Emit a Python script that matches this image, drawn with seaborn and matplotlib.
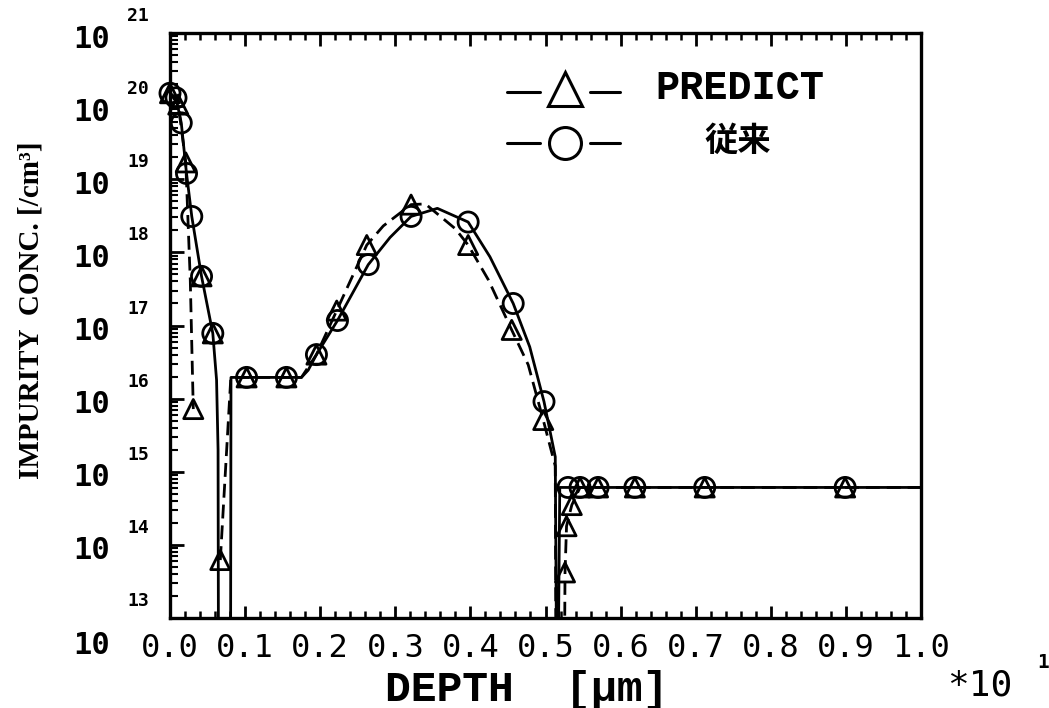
import pandas as pd
import matplotlib
matplotlib.use("Agg")
import matplotlib.pyplot as plt
import matplotlib.ticker as mticker
from matplotlib.transforms import offset_copy
import seaborn as sns

# depth is in units of 10 um (axis reads 0.0 .. 1.0, *10^1), concentration in /cm3
# 1e12 marks points where the profile drops below the bottom of the axis (junctions)

# conventional (従来) profile, solid line
conv_depth = [0.000, 0.008, 0.015, 0.022, 0.029, 0.042, 0.057, 0.062, 0.064, 0.0646,
              0.0806, 0.0812, 0.102, 0.155, 0.175, 0.184, 0.195, 0.223, 0.264, 0.293,
              0.321, 0.356, 0.397, 0.426, 0.457, 0.479, 0.498, 0.513, 0.515, 0.5166,
              0.519, 1.000]
conv_conc = [1.5e20, 1.3e20, 5.9e19, 1.2e19, 3.1e18, 4.7e17, 7.8e16, 1.8e16, 2.0e15, 1e12,
             1e12, 1.95e16, 1.95e16, 1.95e16, 1.95e16, 2.45e16, 4.0e16, 1.17e17, 6.8e17, 1.6e18,
             3.1e18, 4.0e18, 2.6e18, 8.7e17, 2.0e17, 5.1e16, 9.1e15, 1.6e15, 1e12, 1e12,
             6.1e14, 6.1e14]
conv_mark_depth = [0.000, 0.008, 0.015, 0.022, 0.029, 0.042, 0.057, 0.102, 0.155, 0.195,
                   0.223, 0.264, 0.321, 0.397, 0.457, 0.498, 0.530, 0.546, 0.570, 0.619,
                   0.712, 0.899]
conv_mark_conc = [1.5e20, 1.3e20, 5.9e19, 1.2e19, 3.1e18, 4.7e17, 7.8e16, 1.95e16, 1.95e16, 4.0e16,
                  1.17e17, 6.8e17, 3.1e18, 2.6e18, 2.0e17, 9.1e15, 6.1e14, 6.1e14, 6.1e14, 6.1e14,
                  6.1e14, 6.1e14]

# PREDICT profile, dashed line (two pieces)
predict_seg = [1, 1, 1, 1, 1,
               2, 2, 2, 2, 2, 2, 2, 2, 2, 2, 2, 2, 2, 2, 2, 2, 2, 2, 2, 2, 2, 2, 2, 2, 2]
predict_depth = [0.000, 0.011, 0.021, 0.027, 0.031,
                 0.067, 0.081, 0.102, 0.155, 0.175, 0.195, 0.222, 0.262, 0.284, 0.321,
                 0.340, 0.380, 0.397, 0.424, 0.455, 0.477, 0.497, 0.513, 0.514, 0.525,
                 0.526, 0.528, 0.535, 0.546, 1.000]
predict_conc = [1.5e20, 1.05e20, 1.7e19, 4.2e17, 7.2e15,
                6.2e13, 1.95e16, 1.95e16, 1.95e16, 1.95e16, 4.0e16, 1.6e17, 1.26e18, 2.3e18, 4.5e18,
                4.6e18, 2.1e18, 1.26e18, 4.2e17, 8.7e16, 2.9e16, 5.1e15, 1.2e15, 1e12, 1e12,
                4.2e13, 1.8e14, 3.5e14, 6.1e14, 6.1e14]
predict_mark_depth = [0.000, 0.011, 0.021, 0.031, 0.042, 0.057, 0.067, 0.102, 0.155, 0.195,
                      0.222, 0.262, 0.321, 0.397, 0.455, 0.497, 0.526, 0.528, 0.535, 0.546,
                      0.570, 0.619, 0.712, 0.899]
predict_mark_conc = [1.5e20, 1.05e20, 1.7e19, 7.2e15, 4.7e17, 7.8e16, 6.2e13, 1.95e16, 1.95e16, 4.0e16,
                     1.6e17, 1.26e18, 4.5e18, 1.26e18, 8.7e16, 5.1e15, 4.2e13, 1.8e14, 3.5e14, 6.1e14,
                     6.1e14, 6.1e14, 6.1e14, 6.1e14]

x_ticks = [0.0, 0.1, 0.2, 0.3, 0.4, 0.5, 0.6, 0.7, 0.8, 0.9, 1.0]
x_ticklabels = ["0.0", "0.1", "0.2", "0.3", "0.4", "0.5", "0.6", "0.7", "0.8", "0.9", "1.0"]
y_exponents = [13, 14, 15, 16, 17, 18, 19, 20, 21]

sns.set_theme(style="ticks")
plt.rcParams['font.family'] = ['DejaVu Sans Mono', 'Noto Sans CJK JP']
plt.rcParams.update({"text.color": "black", "axes.labelcolor": "black",
                     "xtick.color": "black", "ytick.color": "black",
                     "axes.edgecolor": "black"})

W, H = 1049, 708
fig = plt.figure(figsize=(W / 100, H / 100), dpi=100)
ax = fig.add_axes([170 / W, 1 - 618 / H, 751 / W, 585 / H])
ax.set_yscale("log")

conv_df = pd.DataFrame({"depth": conv_depth, "conc": conv_conc})
pred_df = pd.DataFrame({"depth": predict_depth, "conc": predict_conc, "seg": predict_seg})

sns.lineplot(data=conv_df, x="depth", y="conc", sort=False, estimator=None,
             color="black", lw=2.0, ax=ax)
sns.lineplot(data=pred_df, x="depth", y="conc", units="seg", sort=False, estimator=None,
             color="black", lw=2.0, linestyle=(0, (5, 2.5)), ax=ax)

sns.scatterplot(x=conv_mark_depth, y=conv_mark_conc, marker="o", s=210,
                facecolor="none", edgecolor="black", linewidth=2.0,
                clip_on=False, zorder=4, ax=ax)
sns.scatterplot(x=predict_mark_depth, y=predict_mark_conc, marker="^", s=190,
                facecolor="none", edgecolor="black", linewidth=2.0,
                clip_on=False, zorder=4, ax=ax)

ax.set_xlim(0, 1.0)
ax.set_ylim(1e13, 1e21)
ax.set_xlabel("")
ax.set_ylabel("")

# axes frame and ticks
for sp in ax.spines.values():
    sp.set_visible(True)
    sp.set_linewidth(2.4)
    sp.set_color("black")

ax.set_xticks(x_ticks)
ax.set_xticklabels(x_ticklabels, fontfamily="DejaVu Sans Mono", fontsize=23, color="black")
ax.xaxis.set_minor_locator(mticker.MultipleLocator(0.02))
ax.yaxis.set_major_locator(mticker.LogLocator(base=10, numticks=20))
ax.yaxis.set_minor_locator(mticker.LogLocator(base=10, subs=range(2, 10), numticks=100))
ax.yaxis.set_minor_formatter(mticker.NullFormatter())

ax.tick_params(axis="x", which="major", direction="in", length=9, width=2,
               top=True, bottom=True, pad=11, colors="black")
ax.tick_params(axis="x", which="minor", direction="in", length=5, width=1.8,
               top=True, bottom=True, colors="black")
ax.tick_params(axis="y", which="major", direction="in", length=10, width=2,
               left=True, right=False, labelleft=False, colors="black")
ax.tick_params(axis="y", which="minor", direction="in", length=6, width=1.5,
               left=True, right=False, colors="black")

# y tick labels drawn as "10" with a raised exponent
ytrans = ax.get_yaxis_transform()
for k in y_exponents:
    drop = -27 if k == 13 else -6
    base = offset_copy(ytrans, fig=fig, x=0, y=drop, units="dots")
    sup = offset_copy(ytrans, fig=fig, x=0, y=17, units="dots")
    ax.text(-0.08, 10.0 ** k, "10", transform=base, ha="right", va="center",
            fontsize=22, fontweight="bold", fontfamily="DejaVu Sans Mono",
            color="black", clip_on=False)
    ax.text(-0.057, 10.0 ** k, str(k), transform=sup, ha="left", va="center",
            fontsize=13, fontweight="bold", fontfamily="DejaVu Sans Mono",
            color="black", clip_on=False)

# legend drawn by hand
ta = ax.transAxes
for yy, mk, ms in [(0.899, "^", 25), (0.812, "o", 23)]:
    ax.plot([0.449, 0.493], [yy, yy], color="black", lw=2.2, transform=ta, clip_on=False)
    ax.plot([0.559, 0.599], [yy, yy], color="black", lw=2.2, transform=ta, clip_on=False)
    ax.plot([0.526], [yy + (0.006 if mk == "^" else 0)], marker=mk, ms=ms, mfc="white",
            mec="black", mew=2.2, ls="none", transform=ta, clip_on=False)
ax.text(0.646, 0.906, "PREDICT", transform=ta, ha="left", va="center",
        fontsize=29, fontweight="bold", fontfamily="Liberation Mono", color="black")
ax.text(0.712, 0.814, "従来", transform=ta, ha="left", va="center",
        fontsize=24, fontweight="bold", fontfamily=["Noto Sans CJK JP", "DejaVu Sans"],
        color="black")

# axis titles
fig.text(527 / W, 1 - 690 / H, "DEPTH  [\u03bcm]", ha="center", va="center",
         fontsize=31, fontweight="bold", fontfamily="Liberation Mono", color="black")
fig.text(1012 / W, 1 - 686 / H, "*10", ha="right", va="center",
         fontsize=26, fontfamily="DejaVu Sans Mono", color="black")
fig.text(1043 / W, 1 - 663 / H, "1", ha="center", va="center",
         fontsize=14, fontweight="bold", fontfamily="DejaVu Sans Mono", color="black")
fig.text(31 / W, 1 - 310 / H, "IMPURITY  CONC. [/cm\u00b3]", ha="center", va="center",
         rotation=90, fontsize=21, fontweight="bold", fontfamily="Liberation Serif",
         color="black")

fig.savefig("out.png", dpi=100)
